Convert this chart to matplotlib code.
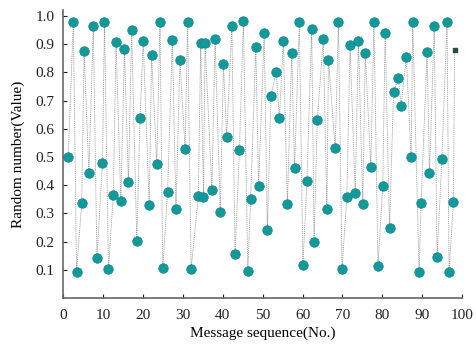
import matplotlib.pyplot as plt

# message sequence (No.) and random number
seq = [1.3, 2.6, 3.4, 4.7, 5.3, 6.5, 7.6, 8.5, 9.9, 10.4, 11.4, 12.6, 13.3, 14.5,
       15.4, 16.4, 17.2, 18.5, 19.3, 20.1, 21.6, 22.2, 23.5, 24.3, 25.0, 26.2,
       27.4, 28.3, 29.3, 30.6, 31.2, 32.1, 33.9, 34.5, 35.2, 35.6, 37.3, 38.1,
       39.4, 40.2, 41.0, 42.3, 43.1, 44.2, 45.2, 46.3, 47.0, 48.3, 49.0, 50.4,
       51.2, 52.1, 53.4, 54.2, 55.2, 56.2, 57.3, 58.0, 59.2, 60.1, 61.1, 62.3,
       62.9, 63.7, 65.2, 66.1, 66.5, 68.2, 69.0, 69.9, 71.1, 71.9, 73.2, 74.0,
       75.1, 75.7, 77.1, 77.9, 78.9, 80.1, 80.7, 81.8, 82.8, 84.0, 84.7, 86.0,
       87.2, 87.6, 89.2, 89.7, 91.2, 91.8, 93.0, 93.7, 94.9, 96.2, 96.7, 97.8]
value = [0.50, 0.978, 0.093, 0.336, 0.877, 0.444, 0.966, 0.14, 0.478, 0.98,
         0.103, 0.365, 0.907, 0.344, 0.883, 0.41, 0.95, 0.203, 0.637, 0.912,
         0.33, 0.862, 0.475, 0.978, 0.107, 0.375, 0.915, 0.315, 0.844, 0.527,
         0.978, 0.103, 0.36, 0.903, 0.357, 0.903, 0.383, 0.917, 0.306, 0.83,
         0.57, 0.965, 0.156, 0.525, 0.982, 0.096, 0.35, 0.889, 0.397, 0.94,
         0.241, 0.716, 0.802, 0.637, 0.91, 0.332, 0.87, 0.46, 0.978, 0.117,
         0.415, 0.953, 0.2, 0.631, 0.917, 0.315, 0.844, 0.53, 0.98, 0.102,
         0.357, 0.897, 0.371, 0.912, 0.332, 0.868, 0.466, 0.977, 0.113, 0.397,
         0.939, 0.247, 0.732, 0.779, 0.681, 0.856, 0.499, 0.98, 0.093, 0.338,
         0.873, 0.442, 0.966, 0.144, 0.492, 0.98, 0.093, 0.339]
# last message, only a small mark in the reference
last_seq = [98.1]
last_value = [0.88]

xticks = list(range(0, 101, 10))
yticks = [0.1, 0.2, 0.3, 0.4, 0.5, 0.6, 0.7, 0.8, 0.9, 1.0]

plt.rcParams['font.family'] = ['Liberation Serif', 'DejaVu Serif']

fig = plt.figure(figsize=(4.77, 3.48), dpi=100)
ax = fig.add_axes((0.132, 0.144, 0.837, 0.827))

ax.plot(seq + last_seq, value + last_value, color='#a0a0a0', lw=0.6,
        linestyle=(0, (1.5, 1.0)), zorder=1)
ax.plot(seq, value, linestyle='none', marker='o', markersize=6.8,
        color='#14999b', markeredgecolor='#0e8c8e', markeredgewidth=0.6,
        zorder=2)
ax.plot(last_seq, last_value, linestyle='none', marker='s', markersize=2.5,
        color='#2a4a4a', zorder=2)

ax.set_xlim(0, 100)
ax.set_ylim(0, 1.021)
ax.set_xticks(xticks)
ax.set_yticks(yticks)
ax.set_yticklabels([f'{v:.1f}' for v in yticks])
ax.tick_params(direction='in', length=3, width=0.8, labelsize=11,
               colors='#222222')
ax.tick_params(axis='x', pad=8)
ax.tick_params(axis='y', pad=6)

ax.spines['top'].set_visible(False)
ax.spines['right'].set_visible(False)
for s in ('left', 'bottom'):
    ax.spines[s].set_color('#666666')
    ax.spines[s].set_linewidth(1.2)

ax.set_xlabel('Message sequence(No.)', fontsize=11, labelpad=3)
ax.set_ylabel('Random number(Value)', fontsize=11, labelpad=8)

fig.savefig('out.png', dpi=100)
